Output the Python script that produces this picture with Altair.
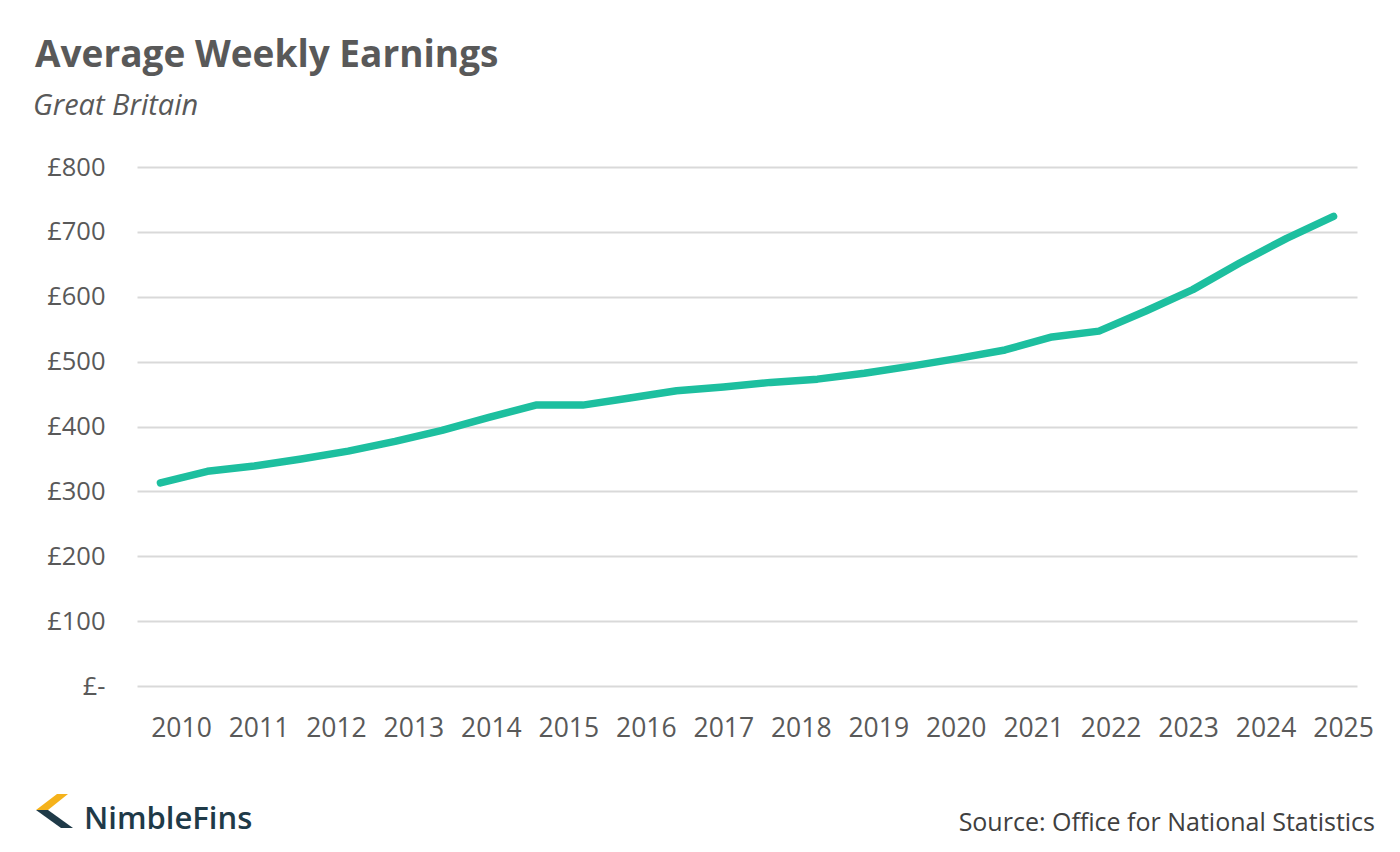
import altair as alt
import pandas as pd

# 26 annual observations drawn evenly along the plot
point_index = list(range(26))
earnings = [313, 331, 339, 350, 362, 377, 394, 414, 433, 433,
            444, 455, 461, 468, 473, 482, 493, 505, 518, 538,
            547, 578, 611, 652, 690, 724]

year_labels = list(range(2010, 2026))
y_ticks = [0, 100, 200, 300, 400, 500, 600, 700, 800]

FONT = "Open Sans"
GREY = "#595959"

df = pd.DataFrame({"i": point_index, "v": earnings})
years_df = pd.DataFrame({"year": year_labels})

W, H = 1220, 519

yscale = alt.Scale(domain=[0, 800], nice=False)
yaxis = alt.Axis(values=y_ticks, labelExpr="datum.value == 0 ? '£-\u00a0\u00a0' : '£' + datum.value",
                 title=None, domain=False, ticks=False, labelPadding=32,
                 labelFont=FONT, labelFontSize=25.5, labelColor=GREY,
                 grid=True, gridColor="#d9d9d9", gridWidth=2)

line = alt.Chart(df).mark_line(color="#1DBF9F", strokeWidth=7.5, strokeCap="round", strokeJoin="round").encode(
    x=alt.X("i:Q", scale=alt.Scale(domain=[-0.5, 25.5], nice=False, zero=False), axis=None),
    y=alt.Y("v:Q", scale=yscale, axis=yaxis),
)

year_axis = alt.Chart(years_df).mark_point(opacity=0).encode(
    x=alt.X("year:Q", scale=alt.Scale(domain=[2009.432, 2025.18], nice=False, zero=False),
            axis=alt.Axis(values=year_labels, format="d", title=None, domain=False, ticks=False,
                          grid=False, labelPadding=29, labelFont=FONT, labelFontSize=26.5,
                          labelColor=GREY, labelOverlap=False)),
    y=alt.value(0),
)

def txt(s, x, y, size, color, weight="normal", style="normal", align="left"):
    return alt.Chart(pd.DataFrame({"t": [s]})).mark_text(
        font=FONT, fontSize=size, color=color, fontWeight=weight, fontStyle=style,
        align=align, baseline="alphabetic").encode(text="t:N", x=alt.value(x), y=alt.value(y))

title = txt("Average Weekly Earnings", -102, -100, 37, GREY, weight="bold")
subtitle = txt("Great Britain", -104, -52, 29, GREY, style="italic")
source = txt("Source: Office for National Statistics", 1238, 664, 25, "#404040", align="right")
brand = txt("NimbleFins", -53, 662, 31, "#1f3a48", weight=600)

yellow = alt.Chart(pd.DataFrame({"a": [0]})).mark_point(
    shape="M0.25,-0.85 L0.8,-0.85 L-0.2,-0.05 L-0.8,-0.05 Z", filled=True, opacity=1,
    color="#F5B21B", size=1600).encode(x=alt.value(-85), y=alt.value(644))
dark = alt.Chart(pd.DataFrame({"a": [0]})).mark_point(
    shape="M-0.8,-0.05 L-0.2,-0.05 L1.05,0.85 L0.45,0.85 Z", filled=True, opacity=1,
    color="#1f3a48", size=1600).encode(x=alt.value(-85), y=alt.value(644))

chart = alt.layer(line, year_axis, title, subtitle, source, brand, yellow, dark).resolve_scale(
    x="independent"
).properties(
    width=W, height=H,
    autosize=alt.AutoSizeParams(type="none"),
    padding={"left": 137, "top": 167, "right": 43, "bottom": 166},
    background="white",
).configure_view(stroke=None)

chart.save("out.html", embed_options={"renderer": "svg", "actions": False})
